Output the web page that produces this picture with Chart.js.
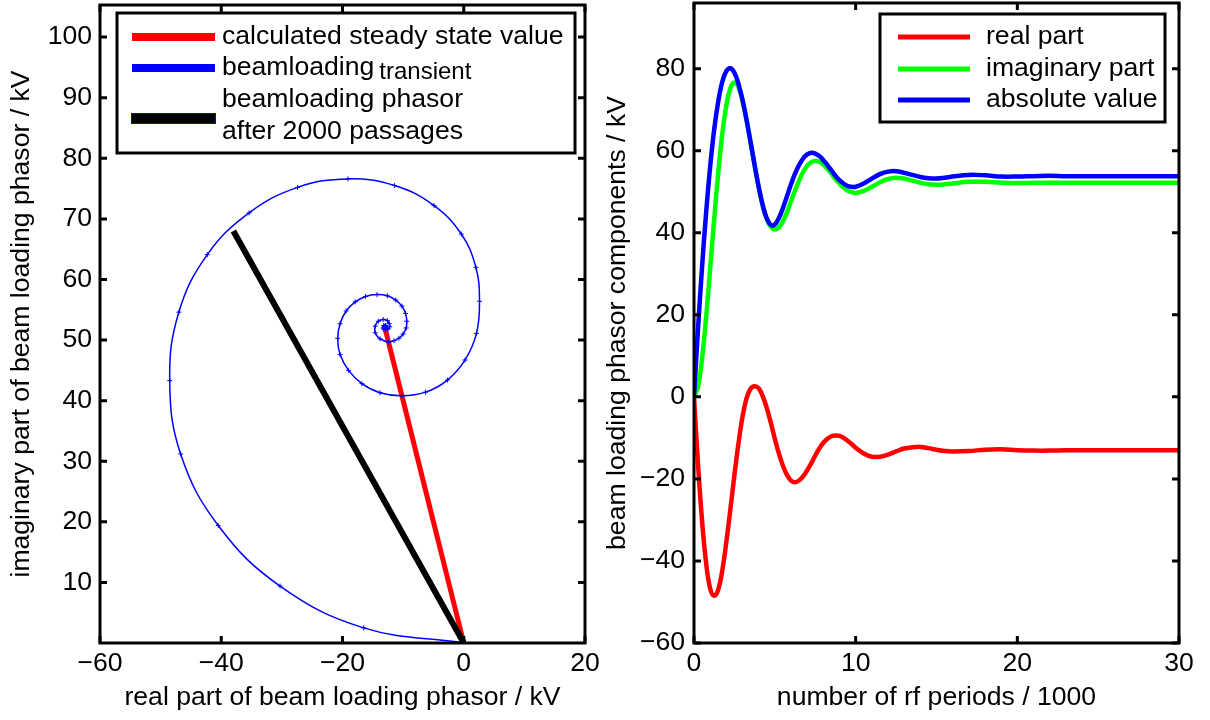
<!DOCTYPE html>
<html>
<head>
<meta charset="utf-8">
<title>Beam loading transient</title>
<script src="https://cdn.jsdelivr.net/npm/chart.js@4.4.1/dist/chart.umd.min.js"></script>
<style>
  body { margin: 0; background: #fff; }
  #wrap { position: relative; width: 1210px; height: 720px; }
  canvas { position: absolute; top: 0; }
  #phasorChart { left: 0; }
  #componentChart { left: 600px; }
</style>
</head>
<body>
<div id="wrap">
  <canvas id="phasorChart" width="600" height="720"></canvas>
  <canvas id="componentChart" width="610" height="720"></canvas>
</div>
<script>
// time axis, in units of 1000 rf periods
var rfPeriods = [0, 0.25, 0.5, 0.75, 1, 1.25, 1.5, 1.75, 2, 2.25,
    2.5, 2.75, 3, 3.25, 3.5, 3.75, 4, 4.25, 4.5, 4.75,
    5, 5.25, 5.5, 5.75, 6, 6.25, 6.5, 6.75, 7, 7.25,
    7.5, 7.75, 8, 8.25, 8.5, 8.75, 9, 9.25, 9.5, 9.75,
    10, 10.5, 11, 11.5, 12, 12.5, 13, 13.5, 14, 14.5,
    15, 15.5, 16, 17, 18, 19, 20, 21, 22, 23,
    24, 25, 26, 27, 28, 29, 30];

// beam loading phasor components (kV)
var realPart = [0, -16.5, -30.3, -40.5, -46.7, -48.5, -47.0, -42.3, -35.4, -27.4,
    -19.1, -11.4, -4.9, -0.4, 2.0, 2.6, 2.1, 0.2, -2.7, -6.3,
    -10.2, -13.8, -16.8, -19.0, -20.4, -20.8, -20.4, -19.4, -17.9, -16.2,
    -14.3, -12.6, -11.2, -10.2, -9.6, -9.4, -9.5, -10.0, -10.7, -11.5,
    -12.4, -13.8, -14.6, -14.6, -14.1, -13.3, -12.6, -12.3, -12.2, -12.5,
    -12.9, -13.2, -13.3, -13.2, -12.9, -12.8, -13.0, -13.1, -13.1, -13.0,
    -13.0, -13.0, -13.0, -13.0, -13.0, -13.0, -13.0];

var imagPart = [0, 2.5, 9.4, 19.4, 31.2, 43.3, 54.6, 64.1, 71.0, 75.2,
    76.6, 75.5, 72.2, 67.5, 62.0, 56.4, 51.1, 46.7, 43.4, 41.4,
    40.8, 41.3, 42.8, 45.0, 47.6, 50.3, 52.7, 54.8, 56.3, 57.2,
    57.5, 57.3, 56.6, 55.6, 54.4, 53.1, 52.0, 51.0, 50.3, 49.9,
    49.7, 50.2, 51.2, 52.3, 53.1, 53.4, 53.2, 52.7, 52.2, 51.8,
    51.7, 51.8, 52.0, 52.4, 52.4, 52.2, 52.1, 52.2, 52.2, 52.2,
    52.2, 52.2, 52.2, 52.2, 52.2, 52.2, 52.2];

var absValue = [0, 16.7, 31.7, 44.9, 56.1, 65.2, 72.0, 76.8, 79.4, 80.1,
    79.0, 76.3, 72.4, 67.5, 62.1, 56.5, 51.2, 46.7, 43.5, 41.9,
    42.0, 43.6, 46.0, 48.9, 51.8, 54.4, 56.5, 58.1, 59.1, 59.5,
    59.3, 58.7, 57.7, 56.5, 55.2, 53.9, 52.8, 52.0, 51.4, 51.2,
    51.2, 52.0, 53.2, 54.3, 54.9, 55.0, 54.6, 54.1, 53.6, 53.3,
    53.2, 53.4, 53.7, 54.1, 54.0, 53.7, 53.7, 53.8, 53.9, 53.8,
    53.8, 53.8, 53.8, 53.8, 53.8, 53.8, 53.8];

// phasor end points [real, imag]
var steadyState = [-13, 52];
var phasorAt2000 = [-38, 68];

// tick values
var phasorXTicks = [-60, -40, -20, 0, 20];
var phasorYTicks = [10, 20, 30, 40, 50, 60, 70, 80, 90, 100];
var periodTicks = [0, 10, 20, 30];
var componentTicks = [-60, -40, -20, 0, 20, 40, 60, 80];

var FONT = "'Liberation Sans', Arial, Helvetica, sans-serif";
var FONT_SIZE = 26.6;
Chart.defaults.font.family = FONT;
Chart.defaults.font.size = FONT_SIZE;
Chart.defaults.color = '#000';

function minus(v) {
    return String(v).replace('-', '\u2212');
}

function fixedTicks(list) {
    return function (scale) {
        scale.ticks = list.map(function (v) { return { value: v }; });
    };
}

// fixed axis size, and no extra room for overhanging tick labels
function fixedSize(size) {
    return function (s) {
        if (s.isHorizontal()) s.height = size; else s.width = size;
        s.paddingTop = 0; s.paddingBottom = 0;
        s.paddingLeft = 0; s.paddingRight = 0;
    };
}

// matlab style box with inward ticks on all four sides
var boxPlugin = {
    id: 'box',
    afterDraw: function (chart) {
        var ctx = chart.ctx, a = chart.chartArea;
        var xs = chart.scales.x, ys = chart.scales.y;
        ctx.save();
        ctx.strokeStyle = '#000';
        ctx.lineWidth = 3;
        ctx.beginPath();
        xs.ticks.forEach(function (t) {
            var px = xs.getPixelForValue(t.value);
            ctx.moveTo(px, a.bottom); ctx.lineTo(px, a.bottom - 7);
            ctx.moveTo(px, a.top); ctx.lineTo(px, a.top + 7);
        });
        ys.ticks.forEach(function (t) {
            var py = ys.getPixelForValue(t.value);
            ctx.moveTo(a.left, py); ctx.lineTo(a.left + 7, py);
            ctx.moveTo(a.right, py); ctx.lineTo(a.right - 7, py);
        });
        ctx.stroke();
        ctx.strokeRect(a.left, a.top, a.right - a.left, a.bottom - a.top);
        ctx.restore();
    }
};

function legendFrame(ctx, x, y, w, h) {
    ctx.fillStyle = '#fff';
    ctx.fillRect(x, y, w, h);
    ctx.strokeStyle = '#000';
    ctx.lineWidth = 3;
    ctx.strokeRect(x, y, w, h);
}

function swatch(ctx, x1, x2, y, color, width) {
    ctx.strokeStyle = color;
    ctx.lineWidth = width;
    ctx.beginPath();
    ctx.moveTo(x1, y);
    ctx.lineTo(x2, y);
    ctx.stroke();
}

var phasorLegend = {
    id: 'phasorLegend',
    afterDraw: function (chart) {
        var ctx = chart.ctx;
        ctx.save();
        legendFrame(ctx, 117, 13, 458, 140);
        swatch(ctx, 132, 215, 37, '#ff0000', 8);
        swatch(ctx, 132, 215, 68, '#0000ff', 8);
        // black entry keeps a thin blue outline
        ctx.fillStyle = '#0000ff';
        ctx.fillRect(131, 113, 85, 11);
        ctx.fillStyle = '#000';
        ctx.fillRect(132, 114, 83, 9);

        ctx.fillStyle = '#000';
        ctx.textBaseline = 'middle';
        ctx.font = FONT_SIZE + 'px ' + FONT;
        ctx.fillText('calculated steady state value', 222, 37);
        ctx.fillText('beamloading', 222, 68);
        var w = ctx.measureText('beamloading').width;
        ctx.fillText('beamloading phasor', 222, 100);
        ctx.fillText('after 2000 passages', 222, 132);
        ctx.font = '24px ' + FONT;
        ctx.fillText('transient', 222 + w + 5, 72);
        ctx.restore();
    }
};

var componentLegend = {
    id: 'componentLegend',
    afterDraw: function (chart) {
        var ctx = chart.ctx;
        ctx.save();
        legendFrame(ctx, 280, 14, 285, 108);
        var rows = [
            ['real part', '#ff0000', 37],
            ['imaginary part', '#00ff00', 69],
            ['absolute value', '#0000ff', 100]
        ];
        ctx.font = FONT_SIZE + 'px ' + FONT;
        ctx.textBaseline = 'middle';
        rows.forEach(function (r) {
            swatch(ctx, 298, 370, r[2], r[1], 5);
            ctx.fillStyle = '#000';
            ctx.fillText(r[0], 386, r[2]);
        });
        ctx.restore();
    }
};

// left: phasor in the complex plane
var spiral = realPart.map(function (x, i) { return { x: x, y: imagPart[i] }; });

new Chart(document.getElementById('phasorChart'), {
    type: 'scatter',
    data: {
        datasets: [{
            label: 'beamloading phasor after 2000 passages',
            data: [{ x: 0, y: 0 }, { x: phasorAt2000[0], y: phasorAt2000[1] }],
            showLine: true,
            borderColor: '#000',
            borderWidth: 6,
            pointRadius: 0,
            order: 0
        }, {
            label: 'beamloading transient',
            data: spiral,
            showLine: true,
            tension: 0.4,
            borderColor: '#0000ff',
            borderWidth: 1.5,
            pointStyle: 'cross',
            pointRadius: 2.5,
            pointBorderWidth: 1,
            pointBorderColor: '#0000ff',
            order: 1
        }, {
            label: 'calculated steady state value',
            data: [{ x: 0, y: 0 }, { x: steadyState[0], y: steadyState[1] }],
            showLine: true,
            borderColor: '#ff0000',
            borderWidth: 5,
            pointRadius: 0,
            order: 2
        }]
    },
    options: {
        responsive: false,
        animation: false,
        devicePixelRatio: 1,
        layout: { padding: { top: 3, right: 15, left: 0, bottom: 0 } },
        plugins: { legend: { display: false }, tooltip: { enabled: false } },
        scales: {
            x: {
                type: 'linear', min: -60, max: 20,
                afterBuildTicks: fixedTicks(phasorXTicks),
                afterFit: fixedSize(77),
                grid: { display: false, drawTicks: false },
                border: { display: false },
                ticks: { padding: 5, maxRotation: 0, callback: minus },
                title: {
                    display: true,
                    text: 'real part of beam loading phasor / kV',
                    padding: { top: 6, bottom: 6 }
                }
            },
            y: {
                type: 'linear', min: 0, max: 105.3,
                afterBuildTicks: fixedTicks(phasorYTicks),
                afterFit: fixedSize(100),
                grid: { display: false, drawTicks: false },
                border: { display: false },
                ticks: { padding: 8, callback: minus },
                title: {
                    display: true,
                    text: 'imaginary part of beam loading phasor / kV',
                    padding: { top: 6, bottom: 6 }
                }
            }
        }
    },
    plugins: [boxPlugin, phasorLegend]
});

// right: components over time
function series(values) {
    return values.map(function (v, i) { return { x: rfPeriods[i], y: v }; });
}

new Chart(document.getElementById('componentChart'), {
    type: 'scatter',
    data: {
        datasets: [{
            label: 'real part',
            data: series(realPart),
            borderColor: '#ff0000',
            order: 2
        }, {
            label: 'imaginary part',
            data: series(imagPart),
            borderColor: '#00ff00',
            order: 1
        }, {
            label: 'absolute value',
            data: series(absValue),
            borderColor: '#0000ff',
            order: 0
        }]
    },
    options: {
        responsive: false,
        animation: false,
        devicePixelRatio: 1,
        datasets: {
            scatter: { showLine: true, tension: 0.4, borderWidth: 4.5, pointRadius: 0 }
        },
        layout: { padding: { top: 3, right: 31, left: 0, bottom: 0 } },
        plugins: { legend: { display: false }, tooltip: { enabled: false } },
        scales: {
            x: {
                type: 'linear', min: 0, max: 30,
                afterBuildTicks: fixedTicks(periodTicks),
                afterFit: fixedSize(77),
                grid: { display: false, drawTicks: false },
                border: { display: false },
                ticks: { padding: 5, maxRotation: 0 },
                title: {
                    display: true,
                    text: 'number of rf periods / 1000',
                    padding: { top: 6, bottom: 6 }
                }
            },
            y: {
                type: 'linear', min: -60, max: 96,
                afterBuildTicks: fixedTicks(componentTicks),
                afterFit: fixedSize(94),
                grid: { display: false, drawTicks: false },
                border: { display: false },
                ticks: { padding: 9, callback: minus },
                title: {
                    display: true,
                    text: 'beam loading phasor components / kV',
                    padding: { top: 1.5, bottom: 1.5 }
                }
            }
        }
    },
    plugins: [boxPlugin, componentLegend]
});
</script>
</body>
</html>
